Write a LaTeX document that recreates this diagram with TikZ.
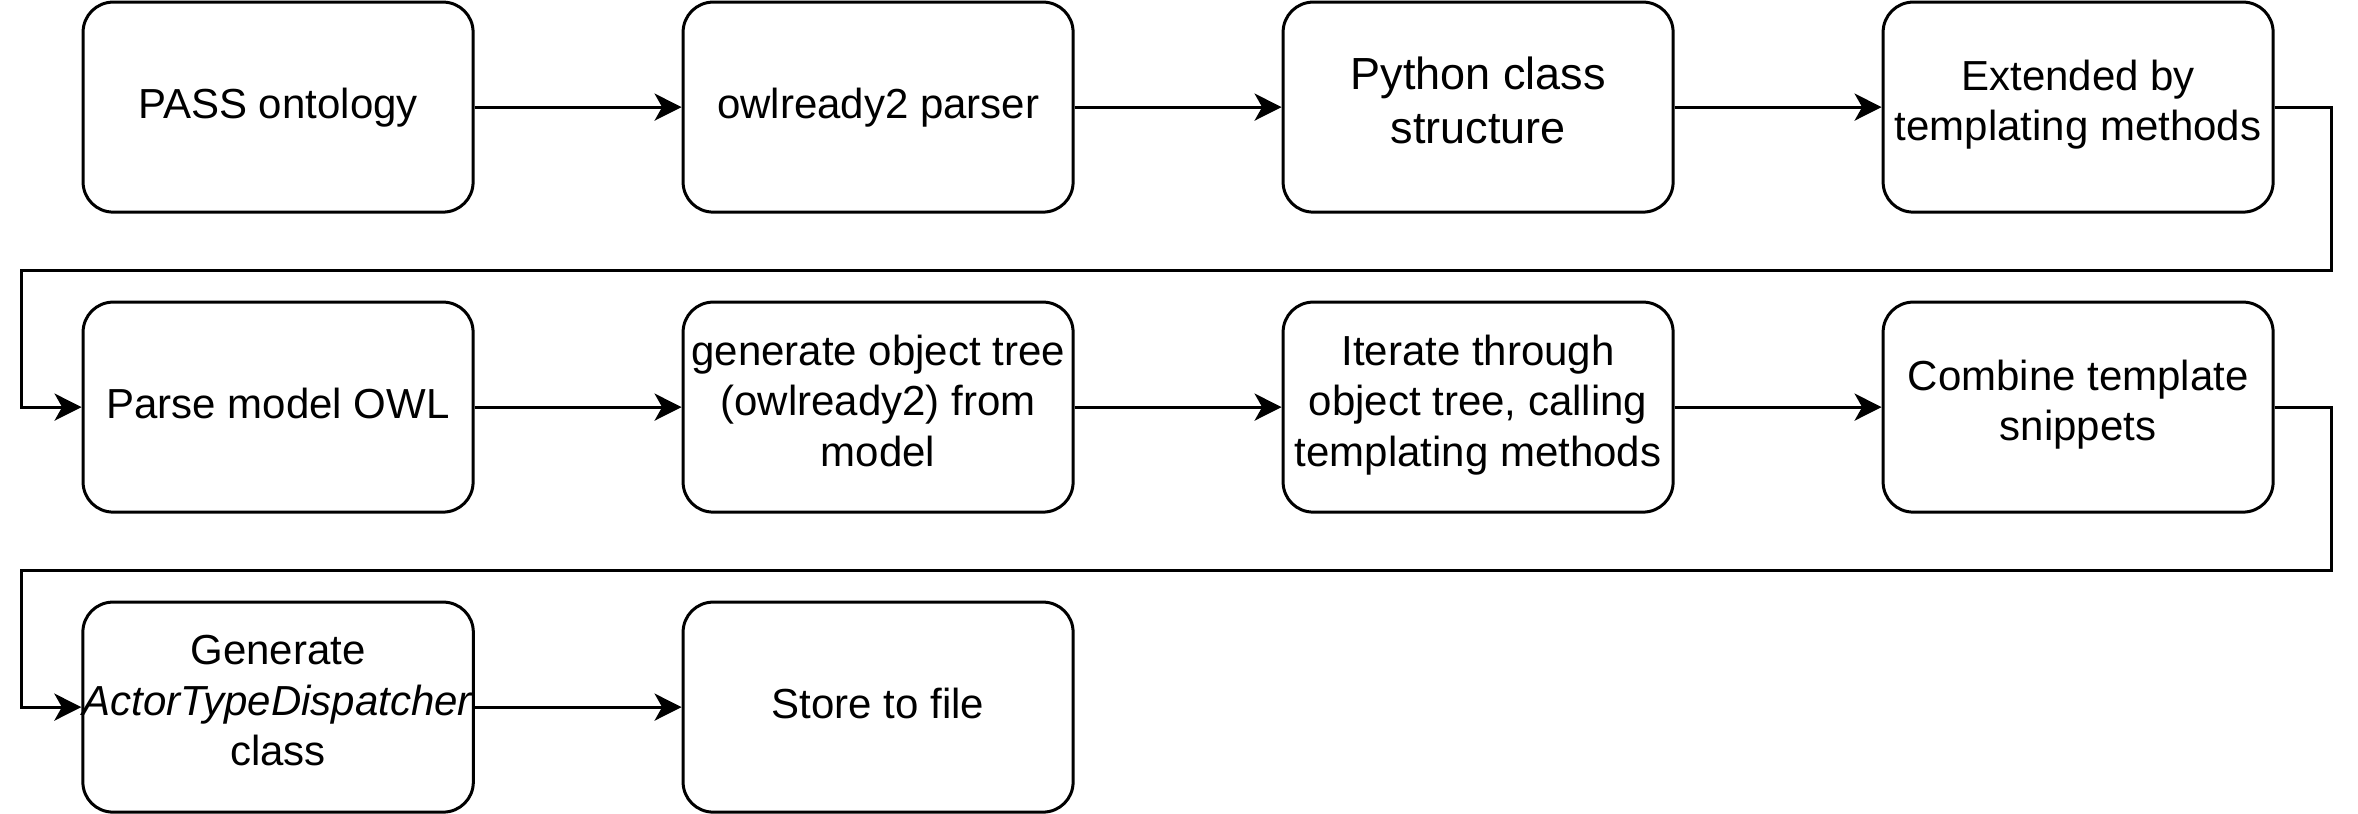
\documentclass[tikz,border=0pt]{standalone}
\usepackage{fontspec}
\setmainfont{Liberation Sans}
\usetikzlibrary{arrows.meta}
\begin{document}
\begin{tikzpicture}[x=1pt,y=-1pt,
  box/.style={draw=black, line width=1pt, rounded corners=10pt, fill=white,
    minimum width=130pt, minimum height=70pt, inner sep=0pt, align=center,
    font=\fontsize{14}{16.8}\selectfont,
    execute at begin node={\rule{0pt}{11.8pt}},
    execute at end node={\rule[-4.4pt]{0pt}{4.4pt}}},
  bigtext/.style={font=\fontsize{15}{18}\selectfont},
  conn/.style={draw=black, line width=1pt,
    -{Stealth[length=9pt, width=9pt, inset=2.5pt]}}]
\useasboundingbox (0,0) rectangle (786,271);
% row 1
\node[box] (b1) at (92.7,35.7) {PASS ontology};
\node[box] (b2) at (292.7,35.7) {owlready2 parser};
\node[box, bigtext] (b3) at (492.7,35.7) {Python class\\structure};
\node[box] (b4) at (692.7,35.7) {Extended by\\templating methods};
% row 2
\node[box] (b5) at (92.7,135.7) {Parse model OWL};
\node[box] (b6) at (292.7,135.7) {generate object tree\\(owlready2) from\\model};
\node[box] (b7) at (492.7,135.7) {Iterate through\\object tree, calling\\templating methods};
\node[box] (b8) at (692.7,135.7) {Combine template\\snippets};
% row 3
\node[box] (b9) at (92.7,235.7) {Generate\\\textit{ActorTypeDispatcher}\\class};
\node[box] (b10) at (292.7,235.7) {Store to file};
% wrap points
\coordinate (r1) at (777.3,90.3);
\coordinate (l1) at (7.3,90.3);
\coordinate (r2) at (777.3,190.3);
\coordinate (l2) at (7.3,190.3);
% connectors
\draw[conn] (b1.east) -- (b2.west);
\draw[conn] (b2.east) -- (b3.west);
\draw[conn] (b3.east) -- (b4.west);
\draw[conn] (b4.east) -| (r1) -- (l1) |- (b5.west);
\draw[conn] (b5.east) -- (b6.west);
\draw[conn] (b6.east) -- (b7.west);
\draw[conn] (b7.east) -- (b8.west);
\draw[conn] (b8.east) -| (r2) -- (l2) |- (b9.west);
\draw[conn] (b9.east) -- (b10.west);
\end{tikzpicture}
\end{document}
